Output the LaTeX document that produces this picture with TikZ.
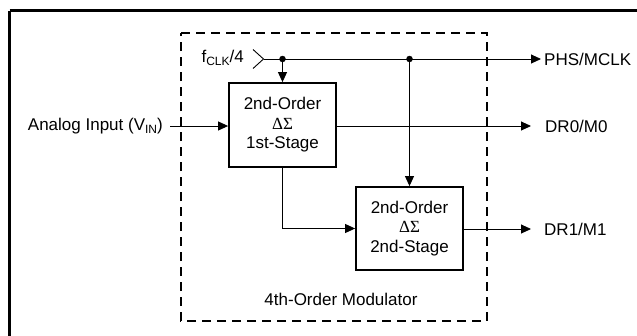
\documentclass[tikz,border=0pt]{standalone}
\usepackage{fontspec}
\setmainfont{Liberation Sans}
\newfontfamily\grk{Liberation Serif}
\usetikzlibrary{arrows.meta}
\newcommand{\mysub}[1]{\raisebox{-0.3ex}{\fontsize{12}{12}\selectfont #1}}
\begin{document}
\begin{tikzpicture}[x=1pt,y=-1pt,
  txt/.style={font=\fontsize{17}{19.5}\selectfont, inner sep=0pt},
  stagebox/.style={draw, line width=1.8pt, minimum width=107pt, minimum height=84pt, align=center, inner sep=0pt, font=\fontsize{17}{19.5}\selectfont},
  conn/.style={line width=0.9pt},
  arr/.style={conn, -{Triangle[length=10pt,width=9pt]}},
  jdot/.style={circle, fill, inner sep=0pt, minimum size=6.5pt}]
\useasboundingbox (0,0) rectangle (637,335);
\begin{scope}
\clip (0,0) rectangle (637,335);
\draw[line width=3pt] (9.5,10.5) -- (660,10.5);
\draw[line width=3pt] (9.5,10.5) -- (9.5,360);
\end{scope}
% dashed modulator boundary
\draw[line width=1.8pt, dash pattern=on 9pt off 6pt] (181,33) -- (487,33) -- (487,321) -- (181,321) -- cycle;
\node[txt] (mod) at (341,299) {4th-Order Modulator};
% stages
\node[stagebox] (s1) at (282.5,125) {2nd-Order\\{\grk ΔΣ}\\1st-Stage};
\node[stagebox, minimum height=83pt] (s2) at (409.5,228.5) {2nd-Order\\{\grk ΔΣ}\\2nd-Stage};
% clock
\node[txt, anchor=east] (fclk) at (244,58) {f\mysub{CLK}/4};
\coordinate (clk) at (263.5,59);
\draw[conn] (253,49.5) -- (clk) -- (253,68.5);
\node[jdot] (d1) at (282.5,59) {};
\node[jdot] (d2) at (409.5,59) {};
\coordinate (phsend) at (541,59);
\node[txt, anchor=west] (phs) at (544,59) {PHS/MCLK};
\draw[arr] (clk) -- (phsend);
\draw[arr] (d1) -- (s1.north);
\draw[arr] (d2) -- (s2.north);
% input
\node[txt, anchor=east] (ain) at (163,126) {Analog Input (V\mysub{IN})};
\coordinate (ainst) at (170,126);
\draw[arr] (ainst) -- (s1.west |- ainst);
% outputs
\coordinate (dr0end) at (531,126);
\node[txt, anchor=west] (dr0) at (545,126) {DR0/M0};
\draw[arr] (s1.east |- dr0end) -- (dr0end);
\coordinate (dr1end) at (531,229);
\node[txt, anchor=west] (dr1) at (544,229) {DR1/M1};
\draw[arr] (s2.east |- dr1end) -- (dr1end);
% stage1 to stage2
\draw[arr] (s1.south) |- (s2.west);
\end{tikzpicture}
\end{document}
